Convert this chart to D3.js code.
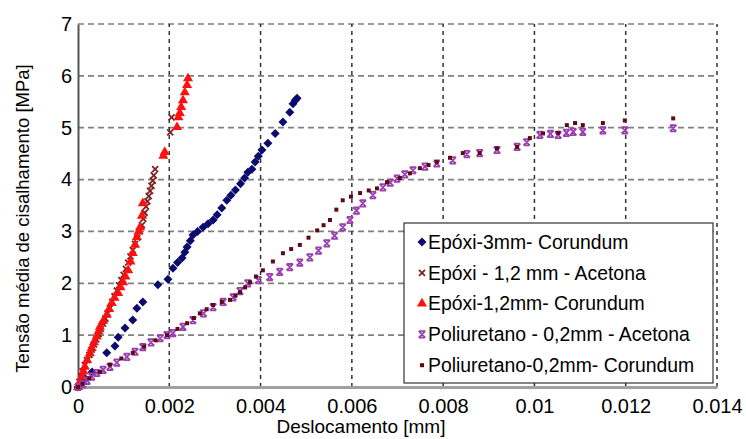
<!DOCTYPE html>
<html lang="pt">

<head>
    <meta charset="UTF-8">
    <title>Tensão x Deslocamento</title>
    <style>
        body {
            margin: 0;
            background: #fff;
        }

        text {
            font-family: Arial, "Liberation Sans", sans-serif;
            fill: #000;
        }
    </style>
</head>

<body>
    <svg id="chart" width="746" height="439"></svg>
    <script src="https://d3js.org/d3.v7.min.js"></script>
    <script>
        // tick values
        const xTicks = [0, 0.002, 0.004, 0.006, 0.008, 0.01, 0.012, 0.014];
        const yTicks = [0, 1, 2, 3, 4, 5, 6, 7];

        // series [deslocamento mm, tensão MPa]
        const epoxi3Corundum = [
            [0, 0], [0.00008, 0.08], [0.00016, 0.16], [0.00031, 0.29], [0.00063, 0.66], [0.00081, 0.79],
            [0.00088, 0.96], [0.00103, 1.14], [0.0012, 1.29], [0.00129, 1.52], [0.00142, 1.64], [0.00175, 1.97],
            [0.00197, 2.08], [0.00208, 2.29], [0.00218, 2.4], [0.00228, 2.49], [0.00234, 2.6], [0.00239, 2.7],
            [0.00246, 2.82], [0.00252, 2.93], [0.00262, 3.0], [0.00274, 3.08], [0.00285, 3.15], [0.00296, 3.22],
            [0.00305, 3.32], [0.00315, 3.45], [0.00326, 3.6], [0.00335, 3.7], [0.00345, 3.8], [0.00356, 3.92],
            [0.00365, 4.03], [0.00372, 4.14], [0.00381, 4.2], [0.00388, 4.34], [0.00395, 4.45], [0.00403, 4.57],
            [0.00416, 4.7], [0.00432, 4.89], [0.00449, 5.11], [0.00464, 5.3], [0.00471, 5.46], [0.00476, 5.53],
            [0.0048, 5.57]
        ];

        const epoxi12Acetona = [
            [0, 0], [0.00003, 0.1], [0.00007, 0.2], [0.0001, 0.3], [0.00015, 0.42], [0.0002, 0.52], [0.00025, 0.62],
            [0.0003, 0.72], [0.00035, 0.82], [0.0004, 0.92], [0.00045, 1.02], [0.0005, 1.12], [0.00055, 1.22],
            [0.0006, 1.32], [0.00065, 1.42], [0.0007, 1.52], [0.00075, 1.64], [0.0008, 1.75], [0.00085, 1.86],
            [0.0009, 1.96], [0.00095, 2.06], [0.001, 2.16], [0.00105, 2.28], [0.0011, 2.4], [0.00115, 2.52],
            [0.0012, 2.64], [0.00125, 2.76], [0.0013, 2.88], [0.00135, 3.0], [0.0014, 3.12], [0.00143, 3.24],
            [0.00146, 3.36], [0.00149, 3.48], [0.00152, 3.58], [0.00155, 3.68], [0.00158, 3.78], [0.00161, 3.88],
            [0.00164, 3.98], [0.00166, 4.08], [0.00169, 4.2], [0.00202, 4.91], [0.00205, 5.2]
        ];

        const epoxi12Corundum = [
            [0, 0], [0.00004, 0.1], [0.00009, 0.2], [0.00012, 0.3], [0.00015, 0.39], [0.0002, 0.52], [0.00026, 0.65],
            [0.0003, 0.75], [0.00035, 0.86], [0.00041, 0.97], [0.00045, 1.07], [0.00048, 1.16], [0.00055, 1.27],
            [0.00063, 1.39], [0.00068, 1.5], [0.00074, 1.62], [0.0008, 1.72], [0.00088, 1.81], [0.00093, 1.92],
            [0.00099, 2.02], [0.00104, 2.13], [0.0011, 2.25], [0.00115, 2.42], [0.0012, 2.58], [0.00125, 2.74],
            [0.00129, 2.89], [0.00133, 3.0], [0.00136, 3.08], [0.0014, 3.3], [0.00142, 3.54], [0.00187, 4.46],
            [0.0019, 4.53], [0.00217, 5.01], [0.0022, 5.2], [0.00223, 5.28], [0.00226, 5.4], [0.0023, 5.53],
            [0.00234, 5.68], [0.00239, 5.82], [0.00241, 5.95]
        ];

        const pu02Acetona = [
            [0, 0], [0.0001, 0.05], [0.0002, 0.12], [0.0003, 0.2], [0.00041, 0.27], [0.00055, 0.33], [0.0007, 0.39],
            [0.00085, 0.47], [0.00107, 0.58], [0.00125, 0.68], [0.00142, 0.77], [0.0016, 0.86], [0.0018, 0.94],
            [0.00195, 1.0], [0.00208, 1.04], [0.0023, 1.16], [0.00252, 1.29], [0.00275, 1.42], [0.00296, 1.54],
            [0.00318, 1.64], [0.0034, 1.73], [0.00355, 1.85], [0.00372, 2.0], [0.00395, 2.06], [0.0042, 2.12],
            [0.00442, 2.22], [0.00464, 2.31], [0.00486, 2.4], [0.00508, 2.5], [0.00527, 2.63], [0.00545, 2.77],
            [0.00562, 2.92], [0.0058, 3.08], [0.00596, 3.22], [0.0061, 3.4], [0.00624, 3.54], [0.00646, 3.7],
            [0.00668, 3.85], [0.00684, 3.94], [0.00699, 4.02], [0.00716, 4.1], [0.00734, 4.18], [0.0076, 4.25],
            [0.00786, 4.31], [0.00821, 4.37], [0.00852, 4.49], [0.0088, 4.51], [0.00918, 4.57], [0.00962, 4.63],
            [0.00983, 4.72], [0.01012, 4.86], [0.01035, 4.88], [0.01052, 4.86], [0.0107, 4.9], [0.01085, 4.92],
            [0.01106, 4.92], [0.0115, 4.95], [0.01198, 4.95], [0.01304, 4.99]
        ];

        const pu02Corundum = [
            [0, 0], [0.0001, 0.06], [0.00025, 0.17], [0.00048, 0.29], [0.0007, 0.43], [0.00095, 0.55], [0.0012, 0.66],
            [0.00145, 0.78], [0.0017, 0.9], [0.00195, 1.0], [0.00218, 1.12], [0.00239, 1.23], [0.00254, 1.33],
            [0.00267, 1.42], [0.00282, 1.5], [0.00296, 1.58], [0.00315, 1.64], [0.00333, 1.68], [0.00345, 1.76],
            [0.00355, 1.83], [0.00366, 1.92], [0.00377, 2.02], [0.0039, 2.13], [0.00405, 2.25], [0.00427, 2.42],
            [0.00449, 2.58], [0.00467, 2.66], [0.00486, 2.74], [0.00505, 2.88], [0.00524, 3.02], [0.00538, 3.12],
            [0.00552, 3.22], [0.00566, 3.42], [0.0058, 3.6], [0.00598, 3.67], [0.00618, 3.74], [0.00637, 3.79],
            [0.00655, 3.83], [0.00677, 3.95], [0.00705, 4.03], [0.00727, 4.12], [0.00749, 4.22], [0.00768, 4.28],
            [0.00786, 4.34], [0.00815, 4.42], [0.00843, 4.51], [0.0088, 4.51], [0.00918, 4.6], [0.00962, 4.63],
            [0.0099, 4.8], [0.01019, 4.89], [0.01052, 4.9], [0.01071, 5.05], [0.01089, 5.09], [0.01106, 5.05],
            [0.0115, 5.09], [0.01198, 5.14], [0.01304, 5.18]
        ];

        const seriesNames = [
            'Epóxi-3mm- Corundum',
            'Epóxi - 1,2 mm - Acetona',
            'Epóxi-1,2mm- Corundum',
            'Poliuretano -  0,2mm - Acetona',
            'Poliuretano-0,2mm- Corundum'
        ];

        const series = [
            { name: seriesNames[0], data: epoxi3Corundum, marker: 'diamond', color: '#0b0b6e' },
            { name: seriesNames[1], data: epoxi12Acetona, marker: 'x', color: '#7d2222' },
            { name: seriesNames[2], data: epoxi12Corundum, marker: 'triangle', color: '#ff1010' },
            { name: seriesNames[3], data: pu02Acetona, marker: 'star', color: '#9b3fb0' },
            { name: seriesNames[4], data: pu02Corundum, marker: 'square', color: '#5c0a14' }
        ];

        const margin = { top: 24, right: 29, bottom: 52, left: 78 };
        const width = 746, height = 439;

        const svg = d3.select('#chart');

        const x = d3.scaleLinear().domain([0, 0.014]).range([margin.left, width - margin.right]);
        const y = d3.scaleLinear().domain([0, 7]).range([height - margin.bottom, margin.top]);

        // grid
        svg.append('g')
            .selectAll('line')
            .data(yTicks.filter(d => d > 0))
            .join('line')
            .attr('x1', x(0)).attr('x2', x(0.014))
            .attr('y1', d => y(d)).attr('y2', d => y(d))
            .attr('stroke', '#808080')
            .attr('stroke-width', 1.7)
            .attr('stroke-dasharray', '6,4');

        svg.append('g')
            .selectAll('line')
            .data(xTicks.filter(d => d > 0))
            .join('line')
            .attr('x1', d => x(d)).attr('x2', d => x(d))
            .attr('y1', y(0)).attr('y2', y(7))
            .attr('stroke', '#333')
            .attr('stroke-width', 1.5)
            .attr('stroke-dasharray', '4,4');

        // axes
        const xAxis = d3.axisBottom(x)
            .tickValues(xTicks)
            .tickSize(0)
            .tickPadding(12)
            .tickFormat(d => d === 0 ? '0' : String(+d.toFixed(3)));

        const yAxis = d3.axisLeft(y)
            .tickValues(yTicks)
            .tickSize(0)
            .tickPadding(6)
            .tickFormat(d3.format('d'));

        svg.append('g')
            .attr('transform', `translate(0,${y(0)})`)
            .call(xAxis)
            .call(g => g.select('.domain').attr('stroke', '#a0a0a0').attr('stroke-width', 3))
            .call(g => g.selectAll('text').attr('font-size', 20).attr('fill', '#000'));

        svg.append('g')
            .attr('transform', `translate(${x(0)},0)`)
            .call(yAxis)
            .call(g => g.select('.domain').attr('stroke', '#555').attr('stroke-width', 2))
            .call(g => g.selectAll('text').attr('font-size', 20).attr('fill', '#000'));

        // markers
        function markerPath(kind) {
            if (kind === 'diamond') return 'M0,-4.5L4.5,0L0,4.5L-4.5,0Z';
            if (kind === 'triangle') return d3.symbol(d3.symbolTriangle, 44)();
            if (kind === 'square') return d3.symbol(d3.symbolSquare, 16)();
            if (kind === 'x') return 'M-3,-3L3,3M-3,3L3,-3';
            return 'M-3.2,-3.2L3.2,3.2M-3.2,3.2L3.2,-3.2M-3.2,-3.2L3.2,-3.2M-3.2,3.2L3.2,3.2';
        }

        function drawMarker(sel, s) {
            const stroked = s.marker === 'x' || s.marker === 'star';
            sel.attr('d', markerPath(s.marker))
                .attr('fill', stroked ? 'none' : s.color)
                .attr('stroke', stroked ? s.color : 'none')
                .attr('stroke-width', stroked ? 1.8 : 0);
        }

        series.forEach(s => {
            svg.append('g')
                .selectAll('path')
                .data(s.data)
                .join('path')
                .attr('transform', d => `translate(${x(d[0])},${y(d[1])})`)
                .call(drawMarker, s);
        });

        // legend
        const legend = svg.append('g').attr('transform', 'translate(404,223)');

        legend.append('rect')
            .attr('width', 309)
            .attr('height', 160)
            .attr('fill', '#fff')
            .attr('stroke', '#333')
            .attr('stroke-width', 1.2);

        const item = legend.selectAll('.item')
            .data(series)
            .join('g')
            .attr('class', 'item')
            .attr('transform', (d, i) => `translate(0,${19 + i * 30.8})`);

        item.append('path')
            .attr('transform', 'translate(18,0)')
            .each(function (d) { d3.select(this).call(drawMarker, d); });

        item.append('text')
            .attr('x', 24)
            .attr('dy', '0.35em')
            .attr('font-size', 19.4)
            .text(d => d.name);

        // axis titles
        svg.append('text')
            .attr('x', 361)
            .attr('y', 433)
            .attr('text-anchor', 'middle')
            .attr('font-size', 19)
            .text('Deslocamento [mm]');

        svg.append('text')
            .attr('transform', `translate(29,${(y(0) + y(7)) / 2 + 13}) rotate(-90)`)
            .attr('text-anchor', 'middle')
            .attr('font-size', 18.5)
            .text('Tensão média de cisalhamento [MPa]');
    </script>
</body>

</html>
